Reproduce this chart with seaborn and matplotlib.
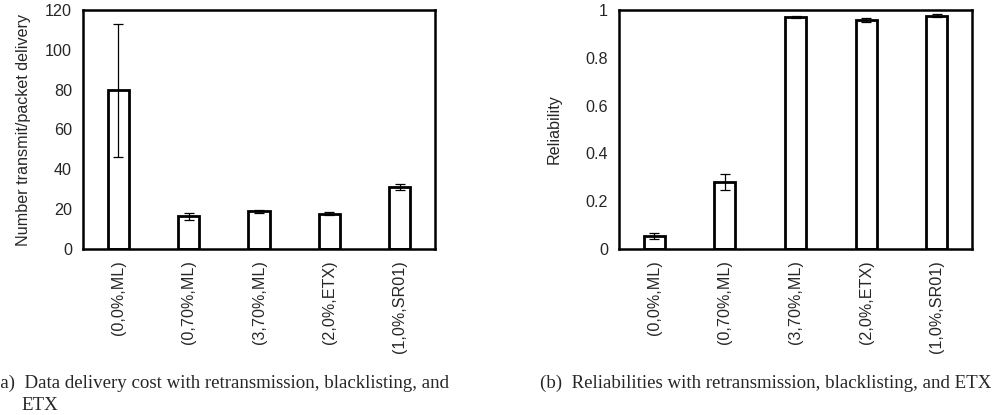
import numpy as np
import pandas as pd
import matplotlib
matplotlib.use('Agg')
import matplotlib.pyplot as plt
import seaborn as sns

# Data
configs = ['(0,0%,ML)', '(0,70%,ML)', '(3,70%,ML)', '(2,0%,ETX)', '(1,0%,SR01)']

cost_mean = [79.6, 16.4, 18.9, 17.7, 31.1]
cost_low = [46.2, 14.8, 18.2, 17.1, 29.4]
cost_high = [113.0, 17.9, 19.6, 18.4, 32.8]

rel_mean = [0.053, 0.280, 0.971, 0.958, 0.976]
rel_low = [0.040, 0.245, 0.968, 0.948, 0.971]
rel_high = [0.068, 0.315, 0.974, 0.968, 0.982]

sns.set_style('white')
plt.rcParams['font.family'] = ['Liberation Sans', 'DejaVu Sans']

fig = plt.figure(figsize=(9.95, 4.15), dpi=100)
ax1 = fig.add_axes([83 / 995, 0.4, 352 / 995, 0.576])
ax2 = fig.add_axes([619 / 995, 0.4, 353 / 995, 0.576])

FS = 11.6


def draw(ax, mean, low, high, ylim, yticks, yticklabels, ylabel, lpad):
    df = pd.DataFrame({'config': configs, 'value': mean})
    sns.barplot(data=df, x='config', y='value', ax=ax, color='white',
                edgecolor='black', linewidth=2, width=0.3, errorbar=None,
                saturation=1)
    mean = np.array(mean)
    yerr = [mean - np.array(low), np.array(high) - mean]
    ax.errorbar(np.arange(len(configs)), mean, yerr=yerr, fmt='none',
                ecolor='black', elinewidth=0.9, capsize=3.6, capthick=0.9)
    ax.set_xlim(-0.5, len(configs) - 0.5)
    ax.set_ylim(*ylim)
    ax.set_yticks(yticks)
    ax.set_yticklabels(yticklabels)
    ax.set_xlabel('')
    ax.set_ylabel(ylabel, fontsize=FS, labelpad=lpad)
    ax.tick_params(axis='y', length=0, labelsize=FS, pad=8)
    ax.tick_params(axis='x', length=0, labelsize=FS, pad=8, labelrotation=90)
    for s in ax.spines.values():
        s.set_visible(True)
        s.set_linewidth(1.8)
        s.set_color('black')


draw(ax1, cost_mean, cost_low, cost_high, (0, 120),
     [0, 20, 40, 60, 80, 100, 120],
     ['0', '20', '40', '60', '80', '100', '120'],
     'Number transmit/packet delivery', 10)
draw(ax2, rel_mean, rel_low, rel_high, (0, 1),
     [0, 0.2, 0.4, 0.6, 0.8, 1.0],
     ['0', '0.2', '0.4', '0.6', '0.8', '1'],
     'Reliability', 17)

cap_font = dict(family=['Liberation Serif', 'DejaVu Serif'], fontsize=13.6)
fig.text(-6 / 995, 1 - 383 / 415, '(a)  Data delivery cost with retransmission, blacklisting, and',
         va='center', ha='left', **cap_font)
fig.text(21 / 995, 1 - 405 / 415, 'ETX', va='center', ha='left', **cap_font)
fig.text(540 / 995, 1 - 383 / 415, '(b)  Reliabilities with retransmission, blacklisting, and ETX',
         va='center', ha='left', **cap_font)

fig.savefig('out.png', dpi=100)
